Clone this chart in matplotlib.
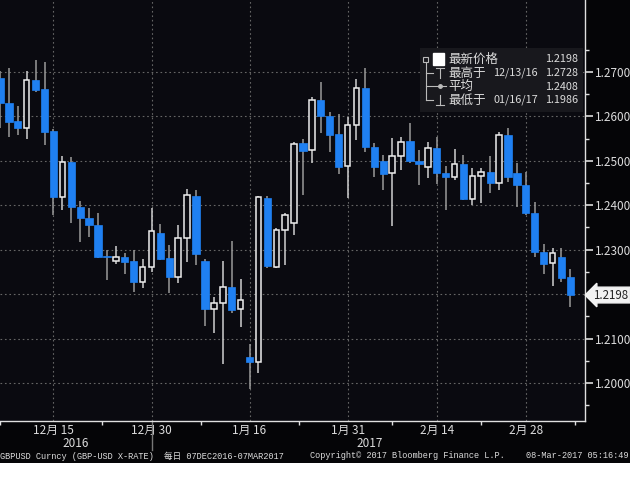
import numpy as np
import pandas as pd
import matplotlib
matplotlib.use('Agg')
import matplotlib.pyplot as plt
from matplotlib.patches import Rectangle
from matplotlib.lines import Line2D

plt.rcParams['font.family'] = ['Noto Sans CJK SC', 'DejaVu Sans']

# GBPUSD daily candles, 07DEC2016 - 07MAR2017
dates = pd.bdate_range('2016-12-07', '2017-03-07')
opens = [1.2687, 1.2630, 1.2590, 1.2574, 1.2682, 1.2662, 1.2567, 1.2419, 1.2497, 1.2396,
         1.2371, 1.2356, 1.2286, 1.2275, 1.2284, 1.2275, 1.2227, 1.2261, 1.2338, 1.2281,
         1.2239, 1.2326, 1.2421, 1.2275, 1.2167, 1.2180, 1.2216, 1.2167, 1.2059, 1.2047,
         1.2416, 1.2261, 1.2344, 1.2360, 1.2540, 1.2524, 1.2637, 1.2601, 1.2560, 1.2488,
         1.2581, 1.2664, 1.2531, 1.2500, 1.2473, 1.2511, 1.2545, 1.2500, 1.2486, 1.2529,
         1.2473, 1.2464, 1.2493, 1.2414, 1.2466, 1.2475, 1.2450, 1.2558, 1.2473, 1.2446,
         1.2383, 1.2295, 1.2270, 1.2284, 1.2239]
highs = [1.2702, 1.2709, 1.2623, 1.2702, 1.2728, 1.2722, 1.2572, 1.2511, 1.2509, 1.2410,
         1.2394, 1.2383, 1.2299, 1.2308, 1.2293, 1.2299, 1.2279, 1.2394, 1.2358, 1.2311,
         1.2356, 1.2437, 1.2434, 1.2280, 1.2194, 1.2275, 1.2320, 1.2234, 1.2088, 1.2421,
         1.2421, 1.2349, 1.2383, 1.2542, 1.2549, 1.2644, 1.2677, 1.2610, 1.2605, 1.2599,
         1.2684, 1.2709, 1.2540, 1.2513, 1.2551, 1.2554, 1.2585, 1.2524, 1.2542, 1.2554,
         1.2488, 1.2527, 1.2513, 1.2484, 1.2484, 1.2511, 1.2565, 1.2574, 1.2495, 1.2475,
         1.2407, 1.2313, 1.2304, 1.2304, 1.2257]
lows = [1.2574, 1.2554, 1.2558, 1.2549, 1.2655, 1.2536, 1.2378, 1.2389, 1.2360, 1.2317,
        1.2329, 1.2282, 1.2232, 1.2268, 1.2245, 1.2205, 1.2214, 1.2250, 1.2277, 1.2203,
        1.2225, 1.2272, 1.2266, 1.2128, 1.2113, 1.2043, 1.2158, 1.2126, 1.1986, 1.2023,
        1.2259, 1.2259, 1.2266, 1.2333, 1.2423, 1.2495, 1.2563, 1.2520, 1.2470, 1.2416,
        1.2547, 1.2520, 1.2464, 1.2434, 1.2353, 1.2479, 1.2495, 1.2446, 1.2461, 1.2448,
        1.2389, 1.2457, 1.2412, 1.2401, 1.2405, 1.2428, 1.2434, 1.2452, 1.2396, 1.2378,
        1.2284, 1.2245, 1.2218, 1.2227, 1.2171]
closes = [1.2630, 1.2587, 1.2574, 1.2682, 1.2659, 1.2565, 1.2419, 1.2497, 1.2396, 1.2371,
          1.2356, 1.2284, 1.2283, 1.2284, 1.2272, 1.2227, 1.2261, 1.2342, 1.2279, 1.2239,
          1.2326, 1.2423, 1.2290, 1.2167, 1.2180, 1.2216, 1.2164, 1.2187, 1.2047, 1.2419,
          1.2263, 1.2344, 1.2378, 1.2538, 1.2522, 1.2637, 1.2601, 1.2558, 1.2486, 1.2581,
          1.2664, 1.2531, 1.2486, 1.2470, 1.2511, 1.2542, 1.2500, 1.2493, 1.2529, 1.2473,
          1.2464, 1.2493, 1.2414, 1.2466, 1.2475, 1.2450, 1.2558, 1.2464, 1.2446, 1.2383,
          1.2295, 1.2268, 1.2293, 1.2236, 1.2198]

tick_dates = ['2016-12-15', '2016-12-30', '2017-01-16', '2017-01-31', '2017-02-14', '2017-02-28']
tick_labels = ['12月 15', '12月 30', '1月 16', '1月 31', '2月 14', '2月 28']
year_labels = ['2016', '2017']
year_dates = ['2016-12-15', '2017-01-31']
y_ticks = [1.20, 1.21, 1.22, 1.23, 1.24, 1.25, 1.26, 1.27]

last_price = 1.2198
legend_names = ['最新价格', '最高于', '平均', '最低于']
legend_dates = ['', '12/13/16', '', '01/16/17']
legend_values = ['1.2198', '1.2728', '1.2408', '1.1986']

W, H = 630, 490
BG = '#0a0a10'
BLUE = '#1f80f2'
TXT = '#dcdcdc'


def px(x, y):
    return x / W, 1 - y / H


o = np.array(opens)
c = np.array(closes)
hi = np.array(highs)
lo = np.array(lows)
idx = np.arange(len(dates))
up = c >= o

fig = plt.figure(figsize=(W / 100, H / 100), dpi=100, facecolor='#050507')
ax = fig.add_axes([0, 69 / H, 585 / W, 421 / H])
ax.set_facecolor(BG)

# gridlines
for yv in y_ticks:
    ax.axhline(yv, color='#666666', linestyle=(0, (1.5, 2.5)), linewidth=0.8, zorder=0)
tick_idx = [dates.get_loc(pd.Timestamp(d)) for d in tick_dates]
for t in tick_idx:
    ax.axvline(t, color='#666666', linestyle=(0, (1.5, 2.5)), linewidth=0.8, zorder=0)

# wicks
ax.vlines(idx[~up], lo[~up], hi[~up], color='#9a9a9a', linewidth=1.1, zorder=2)
ax.vlines(idx[up], lo[up], hi[up], color='#d0d0d0', linewidth=1.1, zorder=2)

# bodies
body = np.maximum(np.abs(c - o), 0.0003)
bottom = np.minimum(o, c)
ax.bar(idx[~up], body[~up], bottom=bottom[~up], width=0.82, color=BLUE,
       edgecolor=BLUE, linewidth=0.5, zorder=3)
ax.bar(idx[up], body[up], bottom=bottom[up], width=0.62, color=BG,
       edgecolor='#eeeeee', linewidth=1.1, zorder=3)

ax.set_xlim(0.056, 65.64)
ax.set_ylim(1.19145, 1.2862)

for s in ['top', 'left']:
    ax.spines[s].set_visible(False)
for s in ['bottom', 'right']:
    ax.spines[s].set_color('#e0e0e0')
    ax.spines[s].set_linewidth(1.0)

ax.set_xticks(tick_idx)
ax.set_xticklabels(tick_labels)
mids = [(a + b) / 2 for a, b in zip(tick_idx[:-1], tick_idx[1:])]
ax.set_xticks([0] + mids + [tick_idx[-1] + 5.5], minor=True)
ax.tick_params(axis='x', which='major', length=0, pad=2, labelsize=8.5, colors=TXT)
ax.tick_params(axis='x', which='minor', length=3, width=1, color='#e0e0e0', direction='out')

ax.yaxis.tick_right()
ax.set_yticks(y_ticks)
ax.set_yticklabels(['' if abs(v - 1.22) < 1e-9 else f'{v:.4f}' for v in y_ticks])
ax.set_yticks(np.arange(1.195, 1.28, 0.01), minor=True)
ax.tick_params(axis='y', which='major', length=6, width=1.2, pad=1, labelsize=8.5,
               colors=TXT, direction='out')
ax.tick_params(axis='y', which='minor', length=3, width=1, color='#e0e0e0', direction='out')

# year labels and year separator
for lab, d in zip(year_labels, year_dates):
    ax.annotate(lab, xy=(dates.get_loc(pd.Timestamp(d)), 0), xycoords=('data', 'axes fraction'),
                xytext=(16, -16), textcoords='offset points', ha='center', va='center',
                fontsize=8.5, color=TXT, annotation_clip=False)
ax.plot([17.05, 17.05], [0, -0.07], transform=ax.get_xaxis_transform(), color='#777777',
        linewidth=1, clip_on=False)

# last price box
ax.annotate(f'{last_price:.4f}', xy=(1, last_price), xycoords=('axes fraction', 'data'),
            xytext=(6, 0), textcoords='offset points', ha='left', va='center',
            fontsize=8.3, color='#222222', annotation_clip=False,
            bbox=dict(boxstyle='larrow,pad=0.12', facecolor='#f2f2f2', edgecolor='#f2f2f2'))

# legend box
x0, y0 = px(420, 112)
fig.patches.append(Rectangle((x0, y0), 163 / W, 64 / H, transform=fig.transFigure,
                             facecolor='#18181d', edgecolor='none', zorder=5))
rows_y = [59, 73, 86.5, 100]
for i, ry in enumerate(rows_y):
    fig.text(*px(448, ry), legend_names[i], fontsize=9, color=TXT, va='center', ha='left', zorder=6)
    if legend_dates[i]:
        fig.text(*px(538, ry), legend_dates[i], fontsize=7.8, color=TXT, va='center', ha='right', zorder=6)
    fig.text(*px(578, ry), legend_values[i], fontsize=7.8, color=TXT, va='center', ha='right', zorder=6)

# legend tree icons
fig.patches.append(Rectangle(px(423, 62), 5 / W, 5 / H, transform=fig.transFigure,
                             facecolor='none', edgecolor='#bbbbbb', linewidth=0.8, zorder=6))
fig.patches.append(Rectangle(px(433, 65), 11 / W, 12 / H, transform=fig.transFigure,
                             facecolor='white', edgecolor='white', zorder=6))
tree = [([425.5, 425.5], [63, 100]), ([425.5, 433], [73, 73]), ([425.5, 433], [86.5, 86.5]),
        ([425.5, 433], [100, 100]), ([440, 440], [68, 78]), ([436, 444], [68, 68]),
        ([440, 440], [95, 105]), ([436, 444], [105, 105]), ([434, 446], [86.5, 86.5])]
for xs, ys in tree:
    fig.add_artist(Line2D([x / W for x in xs], [1 - y / H for y in ys], color='#bbbbbb',
                          linewidth=0.8, zorder=6))
fig.add_artist(Line2D([440 / W], [1 - 86.5 / H], marker='o', markersize=2.5, color='#bbbbbb', zorder=6))

# footer
fig.patches.append(Rectangle((0, 0), 1, 27 / H, transform=fig.transFigure,
                             facecolor='white', edgecolor='none', zorder=1))
mono = ['Liberation Mono', 'Noto Sans CJK SC']
fig.text(*px(0, 456), 'GBPUSD Curncy (GBP-USD X-RATE)  每日 07DEC2016-07MAR2017',
         fontsize=6.2, color=TXT, family=mono, va='center', ha='left')
fig.text(*px(310, 456), 'Copyright\u00a9 2017 Bloomberg Finance L.P.',
         fontsize=6.2, color=TXT, family=mono, va='center', ha='left')
fig.text(*px(628, 456), '08-Mar-2017 05:16:49',
         fontsize=6.2, color=TXT, family=mono, va='center', ha='right')

fig.savefig('out.png', dpi=100, facecolor=fig.get_facecolor())
